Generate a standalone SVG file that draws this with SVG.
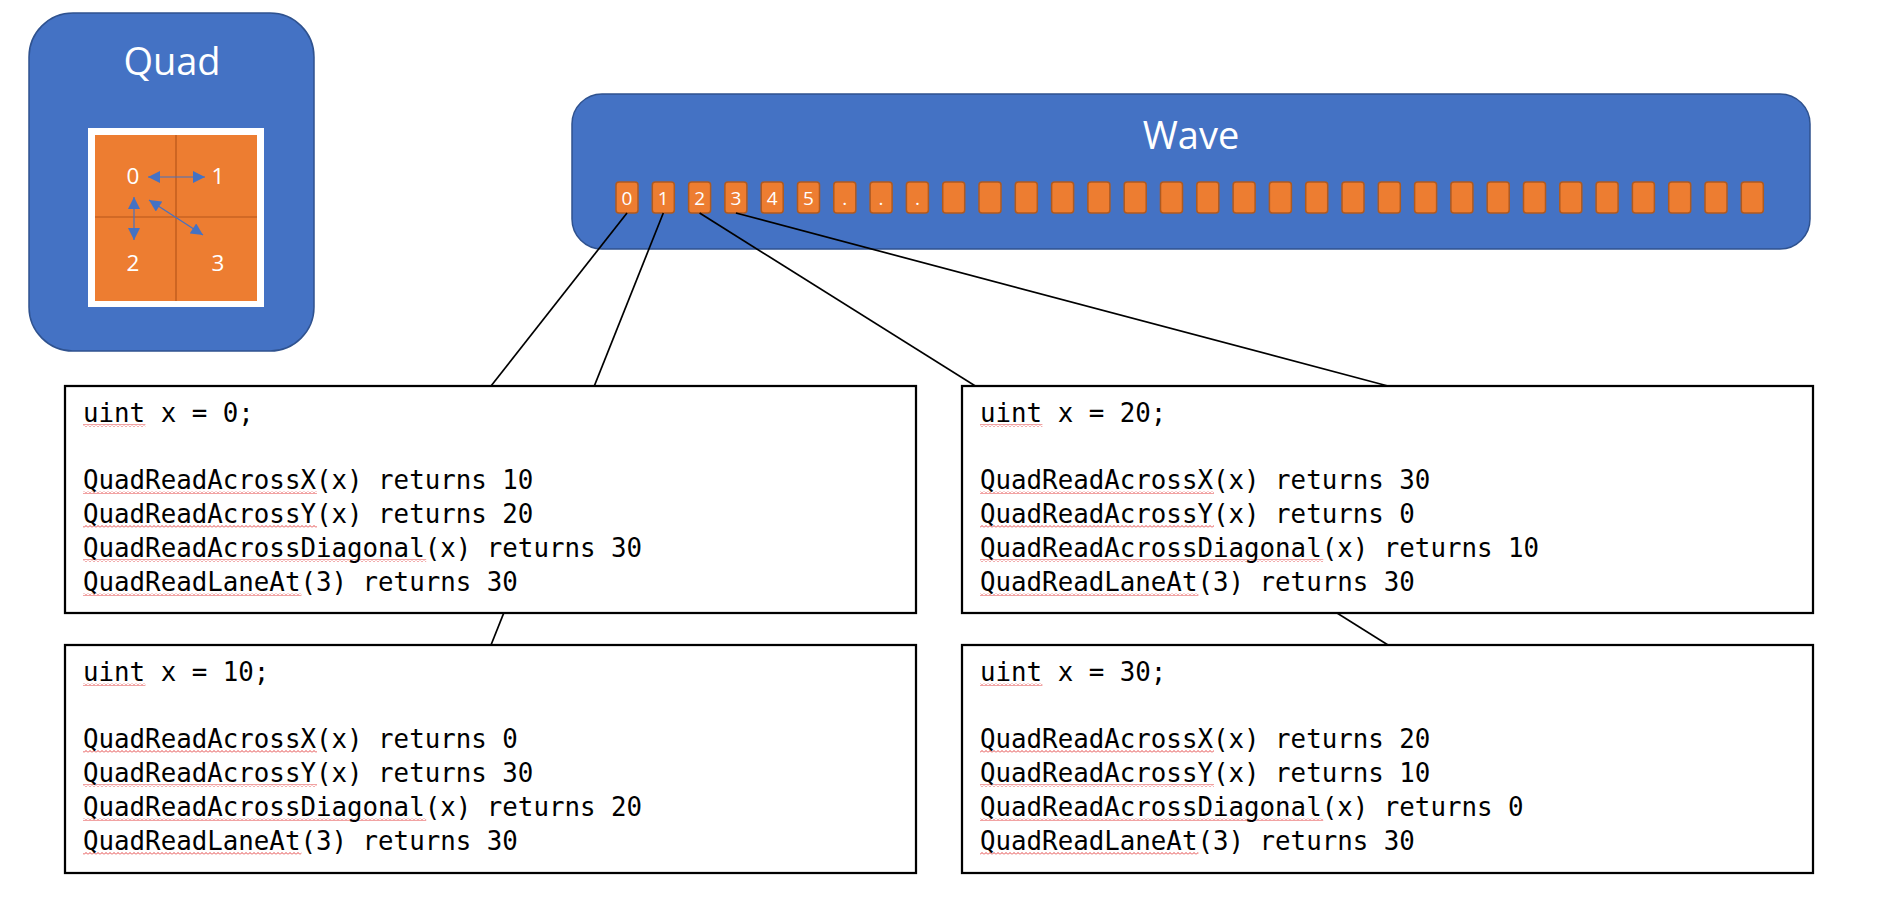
<svg xmlns="http://www.w3.org/2000/svg" xmlns:xlink="http://www.w3.org/1999/xlink" width="1886" height="916" viewBox="0 0 1886 916">
  <style>
    .panel { fill: #4472C4; stroke: #2F528F; stroke-width: 1.5; }
    .title { font-family: "Open Sans", "Liberation Sans", sans-serif; font-size: 38px; fill: #FFFFFF; text-anchor: middle; }
    .qnum { font-family: "Open Sans", "Liberation Sans", sans-serif; font-size: 22.5px; fill: #FFFFFF; text-anchor: middle; }
    .lane { fill: #ED7D31; stroke: #AE5A21; stroke-width: 1.5; }
    .lanenum { font-family: "Open Sans", "Liberation Sans", sans-serif; font-size: 19px; fill: #FFFFFF; text-anchor: middle; }
    .divider { stroke: #B8561A; stroke-width: 1.2; fill: none; }
    .swap { stroke: #4472C4; stroke-width: 1.2; fill: none; marker-start: url(#tip); marker-end: url(#tip); }
    .wire { stroke: #000000; stroke-width: 1.7; fill: none; }
    .codebox { fill: #FFFFFF; stroke: #000000; stroke-width: 2.25; }
    .code { font-family: "DejaVu Sans Mono", "Liberation Mono", monospace; font-size: 25.8px; fill: #000000; }
    .spell { fill: url(#wavy); }
  </style>
  <defs>
    <marker id="tip" viewBox="0 0 10 10" refX="10" refY="5" markerWidth="13" markerHeight="12" markerUnits="userSpaceOnUse" orient="auto-start-reverse">
      <path d="M0,0 L10,5 L0,10 Z" fill="#4472C4"/>
    </marker>
    <pattern id="wavy" width="4" height="3" patternUnits="userSpaceOnUse">
      <path d="M0,2.5 L2,0.5 L4,2.5" fill="none" stroke="#E03030" stroke-width="0.9"/>
    </pattern>
    <rect id="cell" width="22" height="31" rx="3"/>
  </defs>

  <rect width="1886" height="916" fill="#FFFFFF"/>

  <!-- Quad panel: 2x2 lane grid with the exchange directions -->
  <g id="quad">
    <rect class="panel" x="29" y="13" width="285" height="338" rx="44"/>
    <text class="title" x="172" y="75">Quad</text>
    <rect x="88" y="128" width="176" height="179" fill="#FFFFFF"/>
    <rect x="95" y="135" width="162" height="166" fill="#ED7D31"/>
    <line class="divider" x1="176" y1="135" x2="176" y2="301"/>
    <line class="divider" x1="95" y1="217" x2="257" y2="217"/>
    <text class="qnum" x="133" y="184">0</text>
    <text class="qnum" x="218" y="184">1</text>
    <text class="qnum" x="133" y="271">2</text>
    <text class="qnum" x="218" y="271">3</text>
    <line class="swap" x1="148" y1="177" x2="205" y2="177"/>
    <line class="swap" x1="134" y1="197" x2="134" y2="240"/>
    <line class="swap" x1="149" y1="200" x2="203" y2="235"/>
  </g>

  <!-- Wave panel: 32 lanes -->
  <g id="wave">
    <rect class="panel" x="572" y="94" width="1238" height="155" rx="30"/>
    <text class="title" x="1191" y="149">Wave</text>
    <g class="lane">
      <use xlink:href="#cell" x="616" y="182"/>
      <use xlink:href="#cell" x="652.3" y="182"/>
      <use xlink:href="#cell" x="688.6" y="182"/>
      <use xlink:href="#cell" x="724.9" y="182"/>
      <use xlink:href="#cell" x="761.2" y="182"/>
      <use xlink:href="#cell" x="797.5" y="182"/>
      <use xlink:href="#cell" x="833.8" y="182"/>
      <use xlink:href="#cell" x="870.1" y="182"/>
      <use xlink:href="#cell" x="906.4" y="182"/>
      <use xlink:href="#cell" x="942.7" y="182"/>
      <use xlink:href="#cell" x="979" y="182"/>
      <use xlink:href="#cell" x="1015.3" y="182"/>
      <use xlink:href="#cell" x="1051.6" y="182"/>
      <use xlink:href="#cell" x="1087.9" y="182"/>
      <use xlink:href="#cell" x="1124.2" y="182"/>
      <use xlink:href="#cell" x="1160.5" y="182"/>
      <use xlink:href="#cell" x="1196.8" y="182"/>
      <use xlink:href="#cell" x="1233.1" y="182"/>
      <use xlink:href="#cell" x="1269.4" y="182"/>
      <use xlink:href="#cell" x="1305.7" y="182"/>
      <use xlink:href="#cell" x="1342" y="182"/>
      <use xlink:href="#cell" x="1378.3" y="182"/>
      <use xlink:href="#cell" x="1414.6" y="182"/>
      <use xlink:href="#cell" x="1450.9" y="182"/>
      <use xlink:href="#cell" x="1487.2" y="182"/>
      <use xlink:href="#cell" x="1523.5" y="182"/>
      <use xlink:href="#cell" x="1559.8" y="182"/>
      <use xlink:href="#cell" x="1596.1" y="182"/>
      <use xlink:href="#cell" x="1632.4" y="182"/>
      <use xlink:href="#cell" x="1668.7" y="182"/>
      <use xlink:href="#cell" x="1705" y="182"/>
      <use xlink:href="#cell" x="1741.3" y="182"/>
    </g>
    <text class="lanenum" x="627" y="205">0</text>
    <text class="lanenum" x="663.3" y="205">1</text>
    <text class="lanenum" x="699.6" y="205">2</text>
    <text class="lanenum" x="735.9" y="205">3</text>
    <text class="lanenum" x="772.2" y="205">4</text>
    <text class="lanenum" x="808.5" y="205">5</text>
    <text class="lanenum" x="844.8" y="205">.</text>
    <text class="lanenum" x="881.1" y="205">.</text>
    <text class="lanenum" x="917.4" y="205">.</text>
  </g>

  <!-- Lane-to-value links (drawn beneath the code boxes) -->
  <g id="connectors">
    <line class="wire" x1="627" y1="213" x2="491" y2="386"/>
    <line class="wire" x1="663.3" y1="213" x2="491" y2="645"/>
    <line class="wire" x1="699.6" y1="213" x2="1388" y2="645"/>
    <line class="wire" x1="735.9" y1="213" x2="1388" y2="386"/>
  </g>

  <!-- Lane 0 -->
  <g id="lane0">
    <rect class="codebox" x="65" y="386" width="851" height="227"/>
    <rect class="spell" x="83" y="424" width="62.4" height="3"/>
    <rect class="spell" x="83" y="491" width="234" height="3"/>
    <rect class="spell" x="83" y="525" width="234" height="3"/>
    <rect class="spell" x="83" y="559" width="343.2" height="3"/>
    <rect class="spell" x="83" y="593" width="218.4" height="3"/>
    <text class="code" x="83" y="422">uint x = 0;</text>
    <text class="code" x="83" y="489">QuadReadAcrossX(x) returns 10</text>
    <text class="code" x="83" y="523">QuadReadAcrossY(x) returns 20</text>
    <text class="code" x="83" y="557">QuadReadAcrossDiagonal(x) returns 30</text>
    <text class="code" x="83" y="591">QuadReadLaneAt(3) returns 30</text>
  </g>

  <!-- Lane 1 -->
  <g id="lane1">
    <rect class="codebox" x="65" y="645" width="851" height="228"/>
    <rect class="spell" x="83" y="683" width="62.4" height="3"/>
    <rect class="spell" x="83" y="750" width="234" height="3"/>
    <rect class="spell" x="83" y="784" width="234" height="3"/>
    <rect class="spell" x="83" y="818" width="343.2" height="3"/>
    <rect class="spell" x="83" y="852" width="218.4" height="3"/>
    <text class="code" x="83" y="681">uint x = 10;</text>
    <text class="code" x="83" y="748">QuadReadAcrossX(x) returns 0</text>
    <text class="code" x="83" y="782">QuadReadAcrossY(x) returns 30</text>
    <text class="code" x="83" y="816">QuadReadAcrossDiagonal(x) returns 20</text>
    <text class="code" x="83" y="850">QuadReadLaneAt(3) returns 30</text>
  </g>

  <!-- Lane 2 -->
  <g id="lane2">
    <rect class="codebox" x="962" y="386" width="851" height="227"/>
    <rect class="spell" x="980" y="424" width="62.4" height="3"/>
    <rect class="spell" x="980" y="491" width="234" height="3"/>
    <rect class="spell" x="980" y="525" width="234" height="3"/>
    <rect class="spell" x="980" y="559" width="343.2" height="3"/>
    <rect class="spell" x="980" y="593" width="218.4" height="3"/>
    <text class="code" x="980" y="422">uint x = 20;</text>
    <text class="code" x="980" y="489">QuadReadAcrossX(x) returns 30</text>
    <text class="code" x="980" y="523">QuadReadAcrossY(x) returns 0</text>
    <text class="code" x="980" y="557">QuadReadAcrossDiagonal(x) returns 10</text>
    <text class="code" x="980" y="591">QuadReadLaneAt(3) returns 30</text>
  </g>

  <!-- Lane 3 -->
  <g id="lane3">
    <rect class="codebox" x="962" y="645" width="851" height="228"/>
    <rect class="spell" x="980" y="683" width="62.4" height="3"/>
    <rect class="spell" x="980" y="750" width="234" height="3"/>
    <rect class="spell" x="980" y="784" width="234" height="3"/>
    <rect class="spell" x="980" y="818" width="343.2" height="3"/>
    <rect class="spell" x="980" y="852" width="218.4" height="3"/>
    <text class="code" x="980" y="681">uint x = 30;</text>
    <text class="code" x="980" y="748">QuadReadAcrossX(x) returns 20</text>
    <text class="code" x="980" y="782">QuadReadAcrossY(x) returns 10</text>
    <text class="code" x="980" y="816">QuadReadAcrossDiagonal(x) returns 0</text>
    <text class="code" x="980" y="850">QuadReadLaneAt(3) returns 30</text>
  </g>
</svg>
